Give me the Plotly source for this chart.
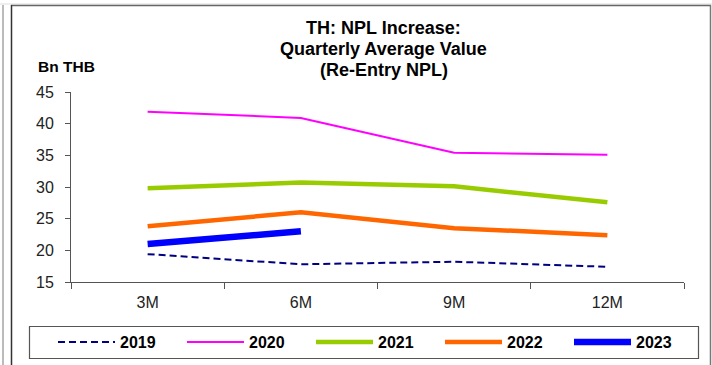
import plotly.graph_objects as go

categories = ["3M", "6M", "9M", "12M"]
years = ["2019", "2020", "2021", "2022", "2023"]
v2019 = [19.4, 17.8, 18.2, 17.4]
v2020 = [41.9, 40.9, 35.4, 35.1]
v2021 = [29.8, 30.7, 30.1, 27.6]
v2022 = [23.8, 26.0, 23.5, 22.4]
v2023 = [21.0, 23.0, None, None]
y_ticks = [15, 20, 25, 30, 35, 40, 45]
title_lines = ["TH: NPL Increase:", "Quarterly Average Value", "(Re-Entry NPL)"]

series = [v2019, v2020, v2021, v2022, v2023]
styles = [
    dict(color="#000080", width=2, dash="7px,4px"),
    dict(color="#FF00FF", width=2),
    dict(color="#99CC00", width=4.5),
    dict(color="#FF6600", width=4.5),
    dict(color="#0000FF", width=6.5),
]

fig = go.Figure()
for name, vals, st in zip(years, series, styles):
    fig.add_trace(go.Scatter(x=categories, y=vals, name=name, mode="lines",
                             line=st, connectgaps=False))

W, H = 712, 365
L, R, T, B = 71, 28, 92, 83
pw, ph = W - L - R, H - T - B

def px(x):
    return (x - L) / pw

def py(y):
    return (H - B - y) / ph

FONT = "Liberation Sans, Arial"
annotations = [
    dict(text="<b>%s</b>" % t, x=px(384), y=py(yc), xref="paper", yref="paper",
         xanchor="center", yanchor="middle", showarrow=False,
         font=dict(size=18, color="black", family=FONT))
    for t, yc in zip(title_lines, [28, 48.5, 70])
]
annotations.append(
    dict(text="<b>Bn THB</b>", x=px(36), y=py(66.5), xref="paper", yref="paper",
         xanchor="left", yanchor="middle", showarrow=False,
         font=dict(size=15.5, color="black", family=FONT)))

fig.update_layout(
    width=W, height=H,
    margin=dict(l=L, r=R, t=T, b=B, autoexpand=False),
    paper_bgcolor="white", plot_bgcolor="white",
    font=dict(family=FONT, size=16, color="#222"),
    showlegend=True,
    legend=dict(
        orientation="h", x=px(53), xanchor="left", y=py(342), yanchor="middle",
        borderwidth=0, bgcolor="rgba(0,0,0,0)",
        font=dict(size=16, color="black", family=FONT, weight="bold"),
        itemwidth=57, entrywidth=57, traceorder="normal",
    ),
    xaxis=dict(
        type="category", showline=True, linecolor="#555", linewidth=1,
        ticks="outside", tickson="boundaries", ticklen=6, tickcolor="#555",
        showgrid=False, zeroline=False, range=[-0.5, 3.5],
        tickfont=dict(size=16, color="#222"), ticklabelstandoff=6,
    ),
    yaxis=dict(
        range=[15, 45], tickvals=y_ticks, showline=True, linecolor="#555",
        linewidth=1, ticks="outside", ticklen=5, tickcolor="#555",
        showgrid=False, zeroline=False, tickfont=dict(size=16, color="#222"),
        ticklabelstandoff=8,
    ),
    annotations=annotations,
    shapes=[
        dict(type="rect", xref="paper", yref="paper", x0=px(29.5), x1=px(698.5),
             y0=py(326.5), y1=py(358.5), line=dict(color="#555", width=1.2)),
        dict(type="line", xref="paper", yref="paper", x0=px(0), x1=px(712),
             y0=py(4), y1=py(4), line=dict(color="#dddddd", width=1)),
        dict(type="line", xref="paper", yref="paper", x0=px(11), x1=px(711),
             y0=py(5.5), y1=py(5.5), line=dict(color="#666", width=1.5)),
        dict(type="line", xref="paper", yref="paper", x0=px(11.5), x1=px(11.5),
             y0=py(5), y1=py(366), line=dict(color="#333", width=1.5)),
        dict(type="line", xref="paper", yref="paper", x0=px(710.5), x1=px(710.5),
             y0=py(5), y1=py(366), line=dict(color="#777", width=1.5)),
        dict(type="line", xref="paper", yref="paper", x0=px(3), x1=px(3),
             y0=py(5), y1=py(366), line=dict(color="#bbbbbb", width=2)),
    ],
)

fig.write_html("out.html", config={"displayModeBar": False},
               post_script="document.body.style.margin='0';document.body.style.overflow='hidden';")
